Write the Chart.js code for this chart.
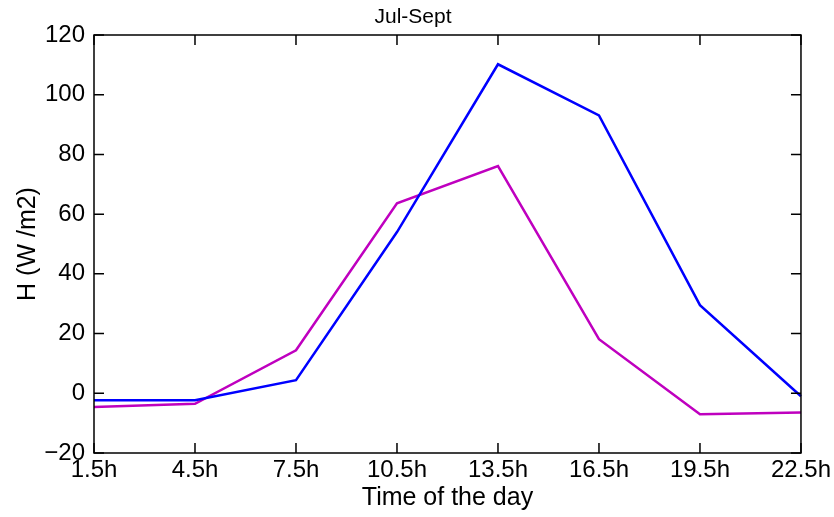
<!DOCTYPE html>
<html>
<head>
<meta charset="utf-8">
<script src="https://cdn.jsdelivr.net/npm/chart.js@4/dist/chart.umd.min.js"></script>
<style>
  html, body { margin: 0; padding: 0; background: #fff; }
  #wrap { width: 834px; height: 517px; }
</style>
</head>
<body>
<div id="wrap"><canvas id="c" width="834" height="517"></canvas></div>
<script>
// Hours of the day (3-hourly averages)
const hours = ['1.5h', '4.5h', '7.5h', '10.5h', '13.5h', '16.5h', '19.5h', '22.5h'];
// Sensible heat flux H, W/m2
const seriesBlue = [-2.3, -2.3, 4.4, 54, 110.2, 93.1, 29.5, -1];
const seriesMagenta = [-4.6, -3.5, 14.4, 63.6, 76.1, 18.1, -7, -6.4];
const yTicks = [-20, 0, 20, 40, 60, 80, 100, 120];

const FONT = 'Liberation Sans, Arial, sans-serif';
const FS = 24;   // tick labels
const FL = 25;   // axis titles

// Framed axes with inward ticks on all four sides
const framePlugin = {
  id: 'frame',
  afterDatasetsDraw(chart) {
    const { ctx, chartArea: a, scales } = chart;
    const xs = scales.x, ys = scales.y;
    const len = 10;
    ctx.save();
    ctx.strokeStyle = '#000';
    ctx.lineWidth = 1.5;
    ctx.beginPath();
    hours.forEach((h, i) => {
      const px = xs.getPixelForValue(i);
      ctx.moveTo(px, a.bottom); ctx.lineTo(px, a.bottom - len);
      ctx.moveTo(px, a.top); ctx.lineTo(px, a.top + len);
    });
    yTicks.forEach(v => {
      const py = ys.getPixelForValue(v);
      ctx.moveTo(a.left, py); ctx.lineTo(a.left + len, py);
      ctx.moveTo(a.right, py); ctx.lineTo(a.right - len, py);
    });
    ctx.stroke();
    ctx.strokeRect(a.left, a.top, a.right - a.left, a.bottom - a.top);
    ctx.restore();
  }
};

new Chart(document.getElementById('c'), {
  type: 'line',
  data: {
    labels: hours,
    datasets: [
      { data: seriesBlue, borderColor: '#0000ff', borderWidth: 2.5, pointRadius: 0, tension: 0, fill: false },
      { data: seriesMagenta, borderColor: '#bf00bf', borderWidth: 2.5, pointRadius: 0, tension: 0, fill: false }
    ]
  },
  options: {
    responsive: false,
    animation: false,
    layout: { padding: { left: 0, right: 8, top: 0, bottom: 0 } },
    plugins: {
      legend: { display: false },
      tooltip: { enabled: false },
      title: {
        display: true,
        text: 'Jul-Sept',
        color: '#000',
        font: { family: FONT, size: 21, weight: 'normal' },
        padding: { top: 5, bottom: 4.8 }
      }
    },
    scales: {
      x: {
        type: 'category',
        offset: false,
        grid: { display: false, drawTicks: false },
        border: { display: false },
        ticks: {
          color: '#000', padding: 3, maxRotation: 0, autoSkip: false,
          font: { family: FONT, size: FS }
        },
        title: {
          display: true, text: 'Time of the day', color: '#000',
          font: { family: FONT, size: FL }, padding: { top: 2, bottom: 4 }
        },
        afterFit(s) { s.height = 64; }
      },
      y: {
        min: -20, max: 120,
        grid: { display: false, drawTicks: false },
        border: { display: false },
        afterBuildTicks(s) { s.ticks = yTicks.map(v => ({ value: v })); },
        ticks: {
          color: '#000', padding: 9,
          font: { family: FONT, size: FS },
          callback: v => String(v).replace('-', '\u2212')
        },
        title: {
          display: true, text: 'H (W /m2)', color: '#000',
          font: { family: FONT, size: FL }, padding: { top: 13, bottom: 2 }
        },
        afterFit(s) { s.width = 94; }
      },
      // empty right-hand margin axis so the plot frame ends before the last label
      yRight: {
        position: 'right',
        grid: { display: false, drawTicks: false },
        border: { display: false },
        ticks: { display: false },
        afterFit(s) { s.width = 24; }
      }
    }
  },
  plugins: [framePlugin]
});
</script>
</body>
</html>
